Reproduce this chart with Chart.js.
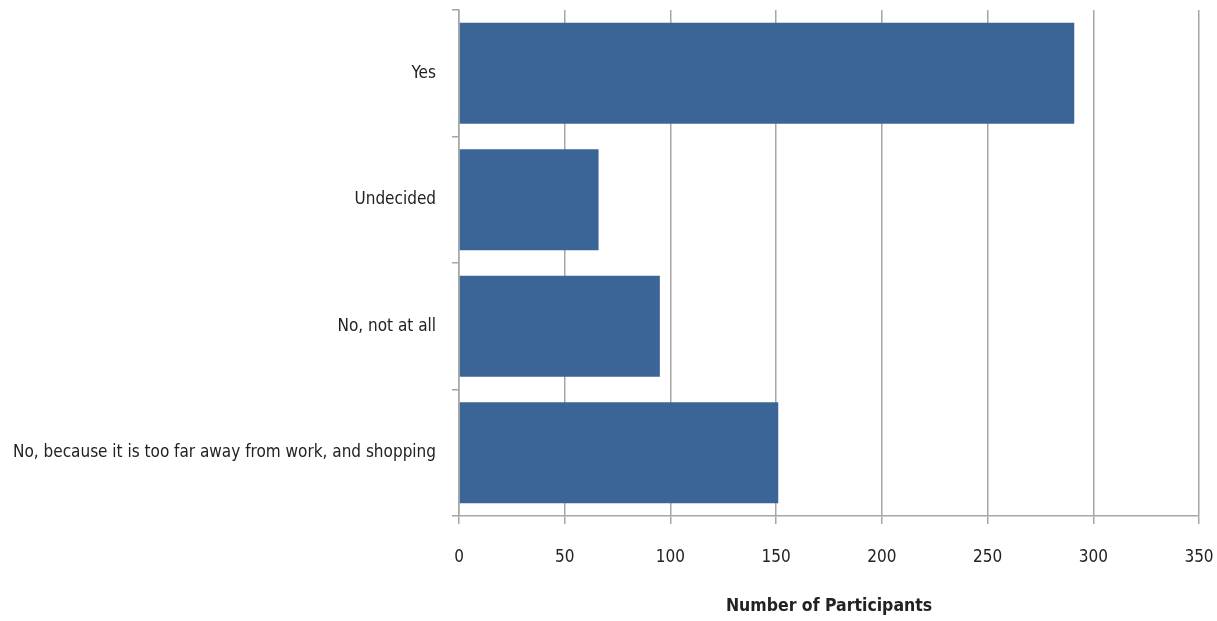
<!DOCTYPE html>
<html>
<head>
<meta charset="utf-8">
<script src="https://cdn.jsdelivr.net/npm/chart.js@4/dist/chart.umd.min.js"></script>
<style>
html,body{margin:0;padding:0;background:#fff;}
#wrap{width:1217px;height:621px;position:relative;}
</style>
</head>
<body>
<div id="wrap"><canvas id="c"></canvas></div>
<script>
const categories = ["Yes", "Undecided", "No, not at all", "No, because it is too far away from work, and shopping"];
const participants = [291, 66, 95, 151];
const xTicks = [0, 50, 100, 150, 200, 250, 300, 350];
const xTitle = "Number of Participants";

const FONT = "'DejaVu Sans', sans-serif";

new Chart(document.getElementById('c'), {
  type: 'bar',
  data: {
    labels: categories,
    datasets: [{
      data: participants,
      backgroundColor: '#3b6596',
      borderWidth: 0,
      barPercentage: 0.8,
      categoryPercentage: 1.0
    }]
  },
  options: {
    indexAxis: 'y',
    responsive: true,
    maintainAspectRatio: false,
    animation: false,
    plugins: { legend: { display: false }, tooltip: { enabled: false } },
    layout: { padding: { top: 10, right: 18, left: 0, bottom: 0 } },
    scales: {
      x: {
        min: xTicks[0],
        max: xTicks[xTicks.length - 1],
        afterBuildTicks: s => { s.ticks = xTicks.map(v => ({ value: v })); },
        afterFit: s => { s.height = 105; s.paddingLeft = 0; s.paddingRight = 0; },
        grid: { color: '#a6a6a6', lineWidth: 1.5, tickLength: 8, drawTicks: true },
        border: { color: '#a6a6a6', width: 1.5 },
        ticks: { color: '#222', font: { family: FONT, size: 17, weight: 'condensed' }, padding: 23 },
        title: { display: true, text: xTitle, color: '#222', font: { family: FONT, size: 17.5, weight: 'bold condensed' }, padding: { top: 18, bottom: 4 } }
      },
      y: {
        afterFit: s => { s.width = 459; s.paddingTop = 0; s.paddingBottom = 0; },
        grid: { offset: true, drawOnChartArea: false, color: '#a6a6a6', lineWidth: 1.5, tickLength: 7 },
        border: { color: '#a6a6a6', width: 1.5 },
        ticks: { color: '#222', font: { family: FONT, size: 17, weight: 'condensed' }, padding: 16 }
      }
    }
  }
});
</script>
</body>
</html>
